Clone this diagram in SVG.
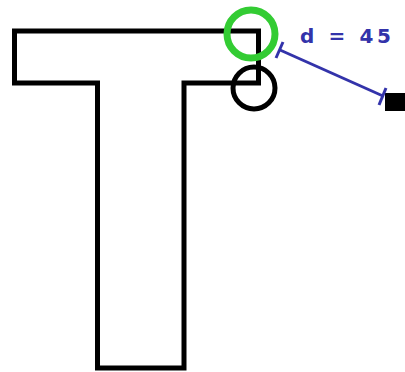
<svg xmlns="http://www.w3.org/2000/svg" width="405" height="372" viewBox="0 0 405 372">
<style>
.outline{fill:none;stroke:#000;stroke-width:5;stroke-linejoin:miter}
.dim{stroke:#3333aa;stroke-width:3;fill:none}
.lbl{font-family:"DejaVu Sans","Liberation Sans",sans-serif;font-weight:bold;font-size:20px;fill:#3333aa}
</style>
<rect width="405" height="372" fill="#fff"/>
<g id="t-shape">
<path class="outline" d="M14.5,31 H258.5 V83 H184 V368 H97.5 V83 H14.5 Z"/>
</g>
<g id="green-circle">
<circle cx="251" cy="34" r="24" fill="none" stroke="#33cc33" stroke-width="7"/>
</g>
<g id="black-circle">
<circle cx="254" cy="88" r="21" fill="none" stroke="#000" stroke-width="5"/>
</g>
<g id="target">
<rect x="385" y="93" width="20" height="18" fill="#000"/>
</g>
<g id="connectors">
<line class="dim" x1="280" y1="50" x2="383" y2="96"/>
<line class="dim" x1="276" y1="58" x2="283" y2="42"/>
<line class="dim" x1="379" y1="105" x2="386" y2="88"/>
</g>
<text class="lbl" x="300" y="43" textLength="91" lengthAdjust="spacing">d = 45</text>
</svg>
